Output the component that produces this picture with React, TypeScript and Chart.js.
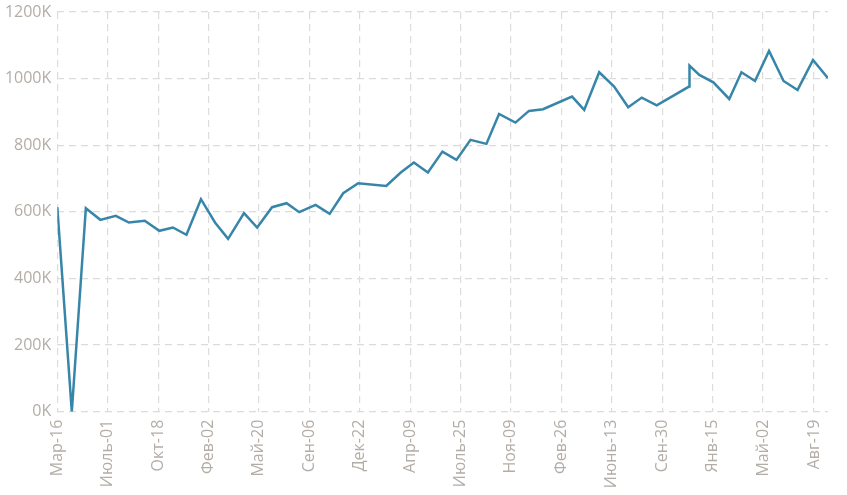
import React, { useEffect, useRef } from "react";
import { Chart, registerables } from "chart.js";

Chart.register(...registerables);

const START_DATE = "2014-03-16";

const pointDates = [
  "2014-03-16", "2014-04-16", "2014-05-16", "2014-06-16", "2014-07-19", "2014-08-16",
  "2014-09-19", "2014-10-20", "2014-11-18", "2014-12-17", "2015-01-17", "2015-02-16",
  "2015-03-16", "2015-04-19", "2015-05-17", "2015-06-18", "2015-07-19", "2015-08-15",
  "2015-09-19", "2015-10-19", "2015-11-17", "2015-12-19", "2016-02-17", "2016-03-19",
  "2016-04-16", "2016-05-16", "2016-06-16", "2016-07-16", "2016-08-15", "2016-09-18",
  "2016-10-15", "2016-11-19", "2016-12-18", "2017-01-17", "2017-03-20", "2017-04-15",
  "2017-05-17", "2017-06-18", "2017-07-18", "2017-08-16", "2017-09-17", "2017-11-25",
  "2017-11-26", "2017-12-17", "2018-01-16", "2018-02-19", "2018-03-17", "2018-04-15",
  "2018-05-15", "2018-06-15", "2018-07-15", "2018-08-17", "2018-09-18",
];

const values = [
  614000, 0, 611000, 576000, 588000, 568000,
  573000, 543000, 553000, 531000, 638000, 568000,
  519000, 596000, 553000, 614000, 626000, 599000,
  621000, 594000, 656000, 686000, 678000, 718000,
  748000, 718000, 781000, 756000, 816000, 804000,
  894000, 868000, 903000, 908000, 946000, 906000,
  1019000, 976000, 914000, 943000, 920000, 976000,
  1039000, 1011000, 989000, 939000, 1019000, 993000,
  1083000, 993000, 966000, 1056000, 1001000,
];

const tickDates = [
  "2014-03-16", "2014-07-01", "2014-10-18", "2015-02-02", "2015-05-20", "2015-09-06",
  "2015-12-22", "2016-04-09", "2016-07-25", "2016-11-09", "2017-02-26", "2017-06-13",
  "2017-09-30", "2018-01-15", "2018-05-02", "2018-08-19",
];

const tickLabels = [
  "Мар-16", "Июль-01", "Окт-18", "Фев-02", "Май-20", "Сен-06",
  "Дек-22", "Апр-09", "Июль-25", "Ноя-09", "Фев-26", "Июнь-13",
  "Сен-30", "Янв-15", "Май-02", "Авг-19",
];

const yTicks = [0, 200000, 400000, 600000, 800000, 1000000, 1200000];

const DAY = 86400000;
const toDay = (s: string) => Math.round((Date.parse(s + "T00:00:00Z") - Date.parse(START_DATE + "T00:00:00Z")) / DAY);

export default function App() {
  const ref = useRef<HTMLCanvasElement | null>(null);

  useEffect(() => {
    if (!ref.current) return;
    const pts = pointDates.map((d, i) => ({ x: toDay(d), y: values[i] }));
    const tickDays = tickDates.map(toDay);
    const labelMap = new Map<number, string>();
    tickDays.forEach((d, i) => labelMap.set(d, tickLabels[i]));
    const font = { family: "'Open Sans', sans-serif", size: 16 };
    const labelColor = "#b3ada7";
    const gridColor = "#dcdcdc";

    const chart = new Chart(ref.current, {
      type: "line",
      data: {
        datasets: [
          {
            data: pts,
            borderColor: "#3786a9",
            borderWidth: 2.5,
            pointRadius: 0,
            tension: 0,
            fill: false,
          },
        ],
      },
      options: {
        animation: false,
        responsive: false,
        maintainAspectRatio: false,
        layout: { padding: { top: 12, right: 19, left: 0, bottom: 0 } },
        plugins: { legend: { display: false }, tooltip: { enabled: false } },
        scales: {
          x: {
            type: "linear",
            min: 0,
            max: pts[pts.length - 1].x,
            afterBuildTicks: (scale: any) => {
              scale.ticks = tickDays.map((v) => ({ value: v }));
            },
            afterFit: (scale: any) => {
              scale.height = 495 - 411.7;
              scale.paddingRight = 0;
              scale.paddingLeft = 0;
            },
            ticks: {
              autoSkip: false,
              maxRotation: 90,
              minRotation: 90,
              padding: 8,
              color: labelColor,
              font,
              callback: (v: any) => labelMap.get(Number(v)) ?? "",
            },
            grid: {
              color: gridColor,
              lineWidth: 1.2,
              drawTicks: false,
            },
            border: { display: false, dash: [7, 5] },
          },
          y: {
            min: 0,
            max: 1200000,
            afterBuildTicks: (scale: any) => {
              scale.ticks = yTicks.map((v) => ({ value: v }));
            },
            afterFit: (scale: any) => {
              scale.width = 57.3;
              scale.paddingTop = 0;
              scale.paddingBottom = 0;
            },
            ticks: {
              padding: 6,
              color: labelColor,
              font,
              callback: (v: any) => Math.round(Number(v) / 1000) + "K",
            },
            grid: {
              color: gridColor,
              lineWidth: 1.2,
              drawTicks: false,
            },
            border: { display: false, dash: [7, 5] },
          },
        },
      },
    });
    return () => chart.destroy();
  }, []);

  return (
    <div style={{ position: "fixed", left: 0, top: 0, width: 847, height: 495, background: "#fff" }}>
      <canvas ref={ref} width={847} height={495} style={{ width: 847, height: 495 }} />
    </div>
  );
}
